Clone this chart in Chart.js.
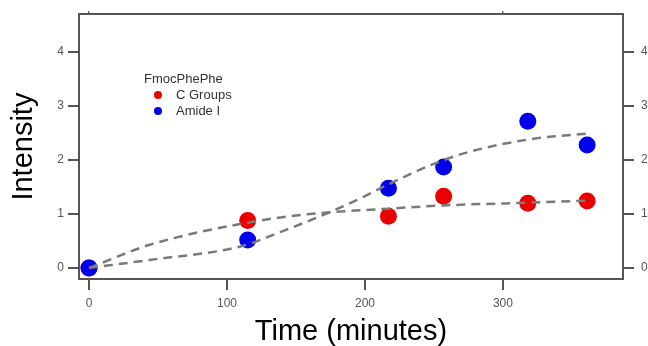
<!DOCTYPE html>
<html>
<head>
<meta charset="utf-8">
<script src="https://cdn.jsdelivr.net/npm/chart.js@4.4.0/dist/chart.umd.min.js"></script>
<style>
  html, body { margin: 0; padding: 0; background: #fff; }
  #wrap { width: 648px; height: 346px; }
</style>
</head>
<body>
<div id="wrap"><canvas id="myChart" width="648" height="346"></canvas></div>
<script>
// measured points
const times = [0, 115, 217, 257, 318, 361];
const cGroups = [0, 0.88, 0.96, 1.33, 1.20, 1.24];
const amideI = [0, 0.52, 1.48, 1.87, 2.72, 2.28];

// fitted curves
const cFitX = [0, 44, 115, 160, 217, 257, 318, 364];
const cFitY = [0, 0.43, 0.84, 1.0, 1.1, 1.16, 1.21, 1.25];
const aFitX = [0, 44, 110, 140, 175, 199, 217, 247, 271, 318, 364];
const aFitY = [0, 0.15, 0.40, 0.68, 1.04, 1.32, 1.55, 1.9, 2.12, 2.38, 2.5];

const xTicks = [0, 100, 200, 300];
const yTicks = [0, 1, 2, 3, 4];

const toXY = (xs, ys) => xs.map((x, i) => ({ x: x, y: ys[i] }));

const axisColor = '#555';
const tickFont = { family: 'Liberation Sans, Arial, sans-serif', size: 12 };

// legend drawn inside the plot like the original
const innerLegend = {
  id: 'innerLegend',
  afterDatasetsDraw(chart) {
    const ctx = chart.ctx;
    ctx.save();
    ctx.font = '13px "Liberation Sans", Arial, sans-serif';
    ctx.fillStyle = '#333';
    ctx.textBaseline = 'middle';
    ctx.fillText('FmocPhePhe', 144, 79);
    const items = [['C Groups', 'rgb(235,0,0)', 95], ['Amide I', 'rgb(0,0,235)', 111]];
    items.forEach(([label, col, y]) => {
      ctx.beginPath();
      ctx.fillStyle = col;
      ctx.arc(158, y, 4, 0, Math.PI * 2);
      ctx.fill();
      ctx.fillStyle = '#333';
      ctx.fillText(label, 176, y);
    });
    ctx.restore();
  }
};

const onlyTicks = (list) => (scale) => {
  scale.ticks = list.map(v => ({ value: v }));
};

const ctx = document.getElementById('myChart').getContext('2d');
new Chart(ctx, {
  type: 'scatter',
  data: {
    datasets: [
      {
        label: 'C Groups fit',
        type: 'line',
        data: toXY(cFitX, cFitY),
        borderColor: '#7a7a7a',
        borderWidth: 2.5,
        borderDash: [9, 6],
        pointRadius: 0,
        cubicInterpolationMode: 'monotone',
        fill: false,
        order: 0
      },
      {
        label: 'Amide I fit',
        type: 'line',
        data: toXY(aFitX, aFitY),
        borderColor: '#7a7a7a',
        borderWidth: 2.5,
        borderDash: [9, 6],
        pointRadius: 0,
        cubicInterpolationMode: 'monotone',
        fill: false,
        order: 0
      },
      {
        label: 'Amide I',
        data: toXY(times, amideI),
        backgroundColor: 'rgb(0,0,235)',
        borderWidth: 0,
        pointRadius: 8.5,
        order: 1
      },
      {
        label: 'C Groups',
        data: toXY(times, cGroups),
        backgroundColor: 'rgb(235,0,0)',
        borderWidth: 0,
        pointRadius: 8.5,
        order: 2
      }
    ]
  },
  options: {
    responsive: false,
    animation: false,
    layout: { padding: 0 },
    plugins: {
      legend: { display: false },
      tooltip: { enabled: false }
    },
    scales: {
      x: {
        type: 'linear',
        position: 'bottom',
        min: -7.25,
        max: 387,
        afterBuildTicks: onlyTicks(xTicks),
        afterFit: (s) => { s.height = 67; },
        ticks: { color: '#555', font: tickFont, padding: 6 },
        grid: { display: true, drawOnChartArea: false, drawTicks: true, tickLength: 11, color: axisColor, lineWidth: 2 },
        border: { display: true, color: axisColor, width: 2 },
        title: {
          display: true,
          text: 'Time (minutes)',
          color: '#000',
          font: { family: 'Liberation Sans, Arial, sans-serif', size: 29, lineHeight: 1.0 },
          padding: { top: 0, bottom: 0 }
        }
      },
      xTop: {
        type: 'linear',
        position: 'top',
        min: -7.25,
        max: 387,
        afterBuildTicks: onlyTicks([0, 300]),
        afterFit: (s) => { s.height = 14; },
        ticks: { display: false },
        grid: { display: true, drawOnChartArea: false, drawTicks: true, tickLength: 3, color: axisColor, lineWidth: 1.5 },
        border: { display: true, color: axisColor, width: 2 }
      },
      y: {
        type: 'linear',
        position: 'left',
        min: -0.204,
        max: 4.704,
        afterBuildTicks: onlyTicks(yTicks),
        afterFit: (s) => { s.width = 79; },
        ticks: { color: '#555', font: tickFont, padding: 4 },
        grid: { display: true, drawOnChartArea: false, drawTicks: true, tickLength: 11, color: axisColor, lineWidth: 2 },
        border: { display: true, color: axisColor, width: 2 },
        title: {
          display: true,
          text: 'Intensity',
          color: '#000',
          font: { family: 'Liberation Sans, Arial, sans-serif', size: 29 },
          padding: { top: 7, bottom: 0 }
        }
      },
      y2: {
        type: 'linear',
        position: 'right',
        min: -0.204,
        max: 4.704,
        afterBuildTicks: onlyTicks(yTicks),
        afterFit: (s) => { s.width = 25; },
        ticks: { color: '#555', font: tickFont, padding: 7 },
        grid: { display: true, drawOnChartArea: false, drawTicks: true, tickLength: 11, color: axisColor, lineWidth: 2 },
        border: { display: true, color: axisColor, width: 2 }
      }
    }
  },
  plugins: [innerLegend]
});
</script>
</body>
</html>
